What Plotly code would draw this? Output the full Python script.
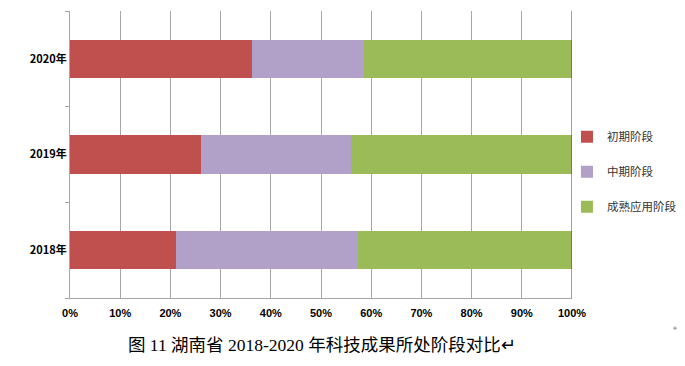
import plotly.graph_objects as go

years = ["2018年", "2019年", "2020年"]
series_names = ["初期阶段", "中期阶段", "成熟应用阶段"]
early = [21.2, 26.1, 36.2]
middle = [36.1, 29.9, 22.3]
mature = [42.7, 44.0, 41.5]
colors = ["#C0504D", "#B1A0C7", "#9BBB59"]
x_ticks = [0, 10, 20, 30, 40, 50, 60, 70, 80, 90, 100]
x_tick_labels = [f"{v}%" for v in x_ticks]
caption = "图 11 湖南省 2018-2020 年科技成果所处阶段对比↵"

fig = go.Figure()
for i, (name, vals) in enumerate(zip(series_names, [early, middle, mature])):
    fig.add_trace(go.Bar(
        y=years, x=vals, name=name, orientation="h",
        marker=dict(color=colors[i], line=dict(width=0)),
        width=0.4, legendgroup=f"g{i}",
    ))

# page body has an 8px default margin, so the figure is sized 8px smaller
fig.update_layout(
    width=677, height=358,
    margin=dict(l=62, r=113, t=3, b=68),
    barmode="stack",
    plot_bgcolor="white", paper_bgcolor="white",
    showlegend=True,
    legend=dict(x=0.99, y=0.612, xanchor="left", yanchor="top",
                traceorder="grouped", tracegroupgap=16,
                bgcolor="rgba(0,0,0,0)",
                font=dict(family="Noto Sans CJK SC", size=11.5, color="#333333"),
                itemwidth=30),
    font=dict(family="Noto Sans CJK SC"),
)
fig.update_xaxes(
    range=[0, 100], tickvals=x_ticks, ticktext=x_tick_labels,
    showgrid=True, gridcolor="#A6A6A6", gridwidth=1,
    showline=True, linecolor="#A6A6A6", linewidth=1,
    ticks="", ticklabelstandoff=5, automargin=False,
    tickfont=dict(family="Liberation Sans Narrow, Arial Narrow, Liberation Sans", size=11, color="black", weight="bold"),
    zeroline=False,
)
fig.update_yaxes(
    categoryorder="array", categoryarray=years, automargin=False,
    showline=True, linecolor="#A6A6A6", linewidth=1,
    ticks="outside", tickson="boundaries", ticklen=4, tickcolor="#A6A6A6",
    tickfont=dict(family="Noto Sans CJK SC", size=11, color="black", weight="bold"),
    showgrid=False,
)
fig.add_shape(type="line", xref="x", yref="paper", x0=100, x1=100, y0=0, y1=1,
              line=dict(color="#404040", width=1))
fig.add_annotation(text=caption, xref="paper", yref="paper", x=0.502, y=-0.164,
                   xanchor="center", yanchor="middle", showarrow=False,
                   font=dict(family="Liberation Serif, Noto Sans CJK SC", size=17.5, color="black"))
fig.add_annotation(text="↵", xref="paper", yref="paper", x=1.21, y=-0.105,
                   xanchor="center", yanchor="middle", showarrow=False,
                   font=dict(family="Liberation Serif", size=9, color="#888888"))

fig.write_html("out.html")
